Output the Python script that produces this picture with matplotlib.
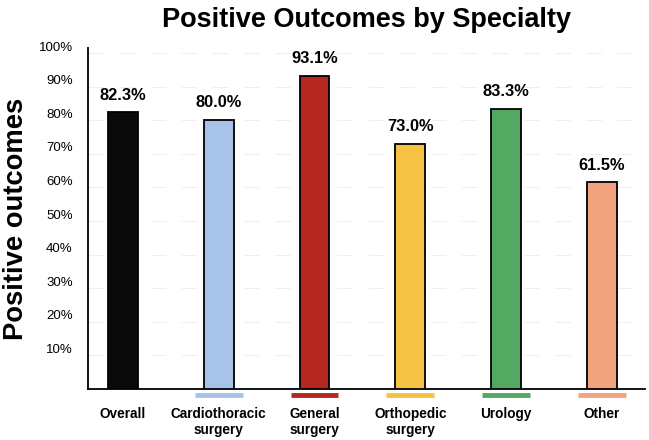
import matplotlib.pyplot as plt
import matplotlib.transforms as mtransforms

plt.rcParams['font.family'] = ['Liberation Sans', 'DejaVu Sans']

# data
categories = ['Overall', 'Cardiothoracic\nsurgery', 'General\nsurgery',
              'Orthopedic\nsurgery', 'Urology', 'Other']
values = [82.3, 80.0, 93.1, 73.0, 83.3, 61.5]
colors = ['#0a0a0a', '#a7c4e8', '#b5271f', '#f6c244', '#53a862', '#f2a47e']

fig = plt.figure(figsize=(6.49, 4.40), dpi=100)
ax = fig.add_axes([0.1356, 0.1159, 0.8582, 0.7751])

x = list(range(len(values)))
ax.bar(x, values, width=0.31, color=colors, edgecolor='black', linewidth=1.3, zorder=3)

# value labels
for xi, v in zip(x, values):
    ax.annotate(f'{v:.1f}%', (xi, v), xytext=(0, 7), textcoords='offset points',
                ha='center', va='bottom', fontsize=11.8, fontweight='bold')

# colored swatches under the bars (not for Overall)
for xi, c in zip(x[1:], colors[1:]):
    ax.hlines(-1.9, xi - 0.25, xi + 0.25, colors=c, linewidth=3.5, clip_on=False)

ax.set_xlim(-0.365, 5.45)
ax.set_ylim(0, 101.5)
ax.set_yticks(range(10, 101, 10))
ax.set_yticklabels([f'{t}%' for t in range(10, 101, 10)], fontsize=9.5)
ax.set_xticks(x)
ax.set_xticklabels(categories, fontsize=9.8, fontweight='bold', linespacing=1.2)
ax.tick_params(axis='both', length=0)
ax.tick_params(axis='x', pad=13)
ax.tick_params(axis='y', pad=11)

# shift y tick labels slightly up
shift = mtransforms.ScaledTranslation(0, 7 / 100, fig.dpi_scale_trans)
for lab in ax.get_yticklabels():
    lab.set_transform(lab.get_transform() + shift)

ax.grid(axis='y', color='#efefef', linestyle=(0, (14, 14)), linewidth=0.8, zorder=0)
ax.spines['top'].set_visible(False)
ax.spines['right'].set_visible(False)
ax.spines['left'].set_linewidth(1.3)
ax.spines['bottom'].set_linewidth(1.3)

ax.set_ylabel('Positive outcomes', fontsize=19.7, fontweight='bold', labelpad=7)
ax.set_title('Positive Outcomes by Specialty', fontsize=19.5, fontweight='bold', pad=15)

fig.savefig('out.png', dpi=100)
